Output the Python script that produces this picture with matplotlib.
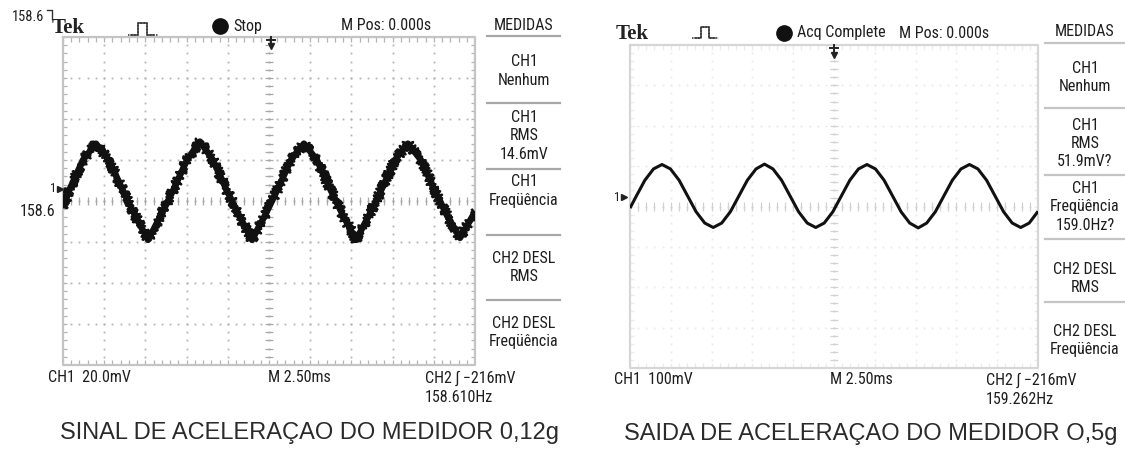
import numpy as np
import matplotlib.pyplot as plt
from matplotlib import font_manager
from matplotlib.lines import Line2D

W, H = 1125, 450

# CH1 traces: time in ms (M 2.50ms/div), level in mV from screen centre
sinal_t = [-12.50, -12.08, -11.29, -10.50, -9.71, -8.92, -8.13, -7.34, -6.56, -5.77, -4.98,
           -4.19, -3.40, -2.61, -1.82, -1.03, -0.24, 0.54, 1.33, 2.12, 2.91, 3.70, 4.49,
           5.28, 6.07, 6.85, 7.64, 8.43, 9.22, 10.01, 10.80, 11.59, 12.38, 12.50]
sinal_mv = [-3, 6, 20, 28, 20, 6, -7, -19, -7, 6, 20,
            29, 20, 6, -7, -19, -7, 6, 20, 28, 20, 6, -7,
            -19, -7, 6, 20, 28, 20, 6, -7, -18, -7, -5]

saida_t = [-12.50, -12.11, -11.59, -11.06, -10.54, -10.02, -9.49, -8.97, -8.45, -7.92, -7.40,
           -6.88, -6.35, -5.83, -5.31, -4.78, -4.26, -3.74, -3.21, -2.69, -2.17, -1.64,
           -1.12, -0.60, -0.07, 0.45, 0.97, 1.50, 2.02, 2.54, 3.07, 3.59, 4.11, 4.64,
           5.16, 5.68, 6.21, 6.73, 7.25, 7.78, 8.30, 8.82, 9.35, 9.87, 10.39, 10.92,
           11.44, 11.96, 12.50]
saida_mv = [-4, 26, 65, 93, 104, 93, 65, 26, -13, -41, -52,
            -41, -13, 26, 65, 93, 105, 93, 65, 26, -13, -41,
            -52, -41, -13, 26, 65, 93, 104, 93, 65, 26, -13, -41,
            -53, -41, -13, 26, 65, 93, 104, 93, 65, 26, -13, -41,
            -52, -41, -12]

ms_div = 2.5
sinal_mv_div = 20.0
saida_mv_div = 100.0

sinal_medidas = [["CH1", "Nenhum"], ["CH1", "RMS", "14.6mV"], ["CH1", "Freqüência"],
                 ["CH2 DESL", "RMS"], ["CH2 DESL", "Freqüência"]]
saida_medidas = [["CH1", "Nenhum"], ["CH1", "RMS", "51.9mV?"], ["CH1", "Freqüência", "159.0Hz?"],
                 ["CH2 DESL", "RMS"], ["CH2 DESL", "Freqüência"]]

sinal_rodape = ["CH1  20.0mV", "M 2.50ms", "CH2 \u222b \u2212216mV", "158.610Hz"]
saida_rodape = ["CH1  100mV", "M 2.50ms", "CH2 \u222b \u2212216mV", "159.262Hz"]
sinal_titulo = "SINAL DE ACELERAÇAO DO MEDIDOR 0,12g"
saida_titulo = "SAIDA DE ACELERAÇAO DO MEDIDOR O,5g"

# scope font: a narrow sans if there is one
installed = {f.name for f in font_manager.fontManager.ttflist}
narrow = next((n for n in ["Liberation Sans Narrow", "Roboto Condensed", "Open Sans Condensed"]
               if n in installed), None)
if narrow:
    tek = dict(family=[narrow, "DejaVu Sans"], size=11.5, color="#1e1e1e")
else:
    tek = dict(family="DejaVu Sans", size=9, color="#1e1e1e")

fig = plt.figure(figsize=(W / 100, H / 100), dpi=100)


def fx(x):
    return x / W


def fy(y):
    return 1 - y / H


def ftext(x, y, s, **kw):
    fig.text(fx(x), fy(y), s, **kw)


def fline(xs, ys, **kw):
    fig.add_artist(Line2D([fx(v) for v in xs], [fy(v) for v in ys], **kw))


def screen(box, mv_div, t, mv, dot, centre, edge, lw):
    x0, y0, x1, y1 = box
    ax = fig.add_axes([fx(x0), fy(y1), (x1 - x0) / W, (y1 - y0) / H])
    ax.set_xlim(-5 * ms_div, 5 * ms_div)
    ax.set_ylim(-4 * mv_div, 4 * mv_div)
    ax.axis("off")
    xs = np.arange(-25, 26) * 0.2 * ms_div
    ys = np.arange(-20, 21) * 0.2 * mv_div
    for i in range(-4, 5):
        ax.plot(np.full(len(ys), i * ms_div), ys, ls="none", marker="s", ms=1.3, mew=0,
                color=centre if i == 0 else dot)
    for j in range(-3, 4):
        ax.plot(xs, np.full(len(xs), j * mv_div), ls="none", marker="s", ms=1.3, mew=0,
                color=centre if j == 0 else dot)
    ax.vlines(xs, -0.1 * mv_div, 0.1 * mv_div, color=centre, lw=0.9)
    ax.hlines(ys, -0.1 * ms_div, 0.1 * ms_div, color=centre, lw=0.9)
    ax.vlines(xs, 3.88 * mv_div, 4 * mv_div, color=dot, lw=0.9)
    ax.vlines(xs, -4 * mv_div, -3.88 * mv_div, color=dot, lw=0.9)
    ax.hlines(ys, -5 * ms_div, -4.9 * ms_div, color=dot, lw=0.9)
    ax.hlines(ys, 4.9 * ms_div, 5 * ms_div, color=dot, lw=0.9)
    ax.plot([-5 * ms_div, 5 * ms_div, 5 * ms_div, -5 * ms_div, -5 * ms_div],
            [4 * mv_div, 4 * mv_div, -4 * mv_div, -4 * mv_div, 4 * mv_div],
            color=edge, lw=1.6, clip_on=False)
    ax.plot(t, mv, color="#111111", lw=lw, solid_joinstyle="round", solid_capstyle="butt")
    return ax


# ---------- left screen ----------
ax1 = screen((63, 37, 475, 365), sinal_mv_div, sinal_t, sinal_mv, "#b4b4b4", "#a8a8a8", "#c4c4c4", 4.6)
fuzz = ax1.plot(sinal_t, sinal_mv, color="#111111", lw=1.8)[0]
fuzz.set_sketch_params(scale=5, length=1.5, randomness=2)

ftext(12, 17, "158.6", va="center", **{**tek, "size": tek["size"] * 0.9})
fline([47, 52, 52], [10, 10, 19], color="#333333", lw=1)
ftext(52, 28, "Tek", family="Liberation Serif", weight="bold", size=15, color="#222222", va="center")
fline([128, 131, 131, 138, 138, 147, 147, 154, 158], [35, 35, 35, 35, 23, 23, 35, 35, 35],
      color="#333333", lw=1.1, ls=(0, (1, 1)))
fline([131, 138, 138, 147, 147, 154], [35, 35, 23, 23, 35, 35], color="#333333", lw=1.1)
fline([220], [26], marker="o", ms=11, color="#111111")
ftext(233, 26, "Stop", va="center", **tek)
ftext(341, 26, "M Pos: 0.000s", va="center", **tek)
ftext(524, 25, "MEDIDAS", va="center", ha="center", **tek)
fline([271, 271], [37, 46], color="#222222", lw=1.4)
fline([267, 275], [40, 40], color="#222222", lw=1.4)
fline([271], [46], marker="v", ms=5, color="#222222")
ftext(50, 189, "1", va="center", **{**tek, "size": tek["size"] * 0.8})
fline([60], [189], marker=">", ms=4, color="#222222")
ftext(55, 211, "158.6", va="center", ha="right", **tek)

for y in [36, 103, 169, 235, 300]:
    fline([487, 560], [y, y], color="#a8a8a8", lw=1.6)
for yc, lines in zip([71, 136, 191, 267.5, 332.5], sinal_medidas):
    for k, s in enumerate(lines):
        ftext(524, yc + (k - (len(lines) - 1) / 2) * 18.5, s, ha="center", va="center", **tek)

for x, s in zip([48, 268, 425], sinal_rodape[:3]):
    ftext(x, 378, s, va="center", **tek)
ftext(425, 398, sinal_rodape[3], va="center", **tek)
ftext(310, 433, sinal_titulo, ha="center", va="center", family="Liberation Sans", size=17, color="#2a2a2a")

# ---------- right screen ----------
ax2 = screen((630, 45, 1038, 368), saida_mv_div, saida_t, saida_mv, "#ebebeb", "#d2d2d2", "#d6d6d6", 2.2)

ftext(616, 34, "Tek", family="Liberation Serif", weight="bold", size=15, color="#222222", va="center")
fline([692, 695, 701, 701, 709, 709, 715, 719], [38, 38, 38, 27, 27, 38, 38, 38],
      color="#333333", lw=1.1, ls=(0, (1, 1)))
fline([695, 701, 701, 709, 709, 715], [38, 38, 27, 27, 38, 38], color="#333333", lw=1.1)
fline([784], [33], marker="o", ms=11, color="#111111")
ftext(797, 33, "Acq Complete", va="center", **tek)
ftext(899, 33, "M Pos: 0.000s", va="center", **tek)
ftext(1085, 32, "MEDIDAS", va="center", ha="center", **tek)
fline([834, 834], [45, 55], color="#222222", lw=1.4)
fline([830, 838], [48, 48], color="#222222", lw=1.4)
fline([834], [55], marker="v", ms=5, color="#222222")
ftext(614, 197, "1", va="center", **{**tek, "size": tek["size"] * 0.8})
fline([624], [197], marker=">", ms=4, color="#222222")

for y in [43, 108, 175, 239, 302]:
    fline([1045, 1125], [y, y], color="#c4c4c4", lw=1.6)
for yc, lines in zip([77.5, 144, 207, 278, 340.5], saida_medidas):
    for k, s in enumerate(lines):
        ftext(1085, yc + (k - (len(lines) - 1) / 2) * 18, s, ha="center", va="center", **tek)

for x, s in zip([614, 830, 986], saida_rodape[:3]):
    ftext(x, 380, s, va="center", **tek)
ftext(986, 399, saida_rodape[3], va="center", **tek)
ftext(871, 434, saida_titulo, ha="center", va="center", family="Liberation Sans", size=17, color="#2a2a2a")

fig.savefig("out.png", dpi=100, facecolor="white")
